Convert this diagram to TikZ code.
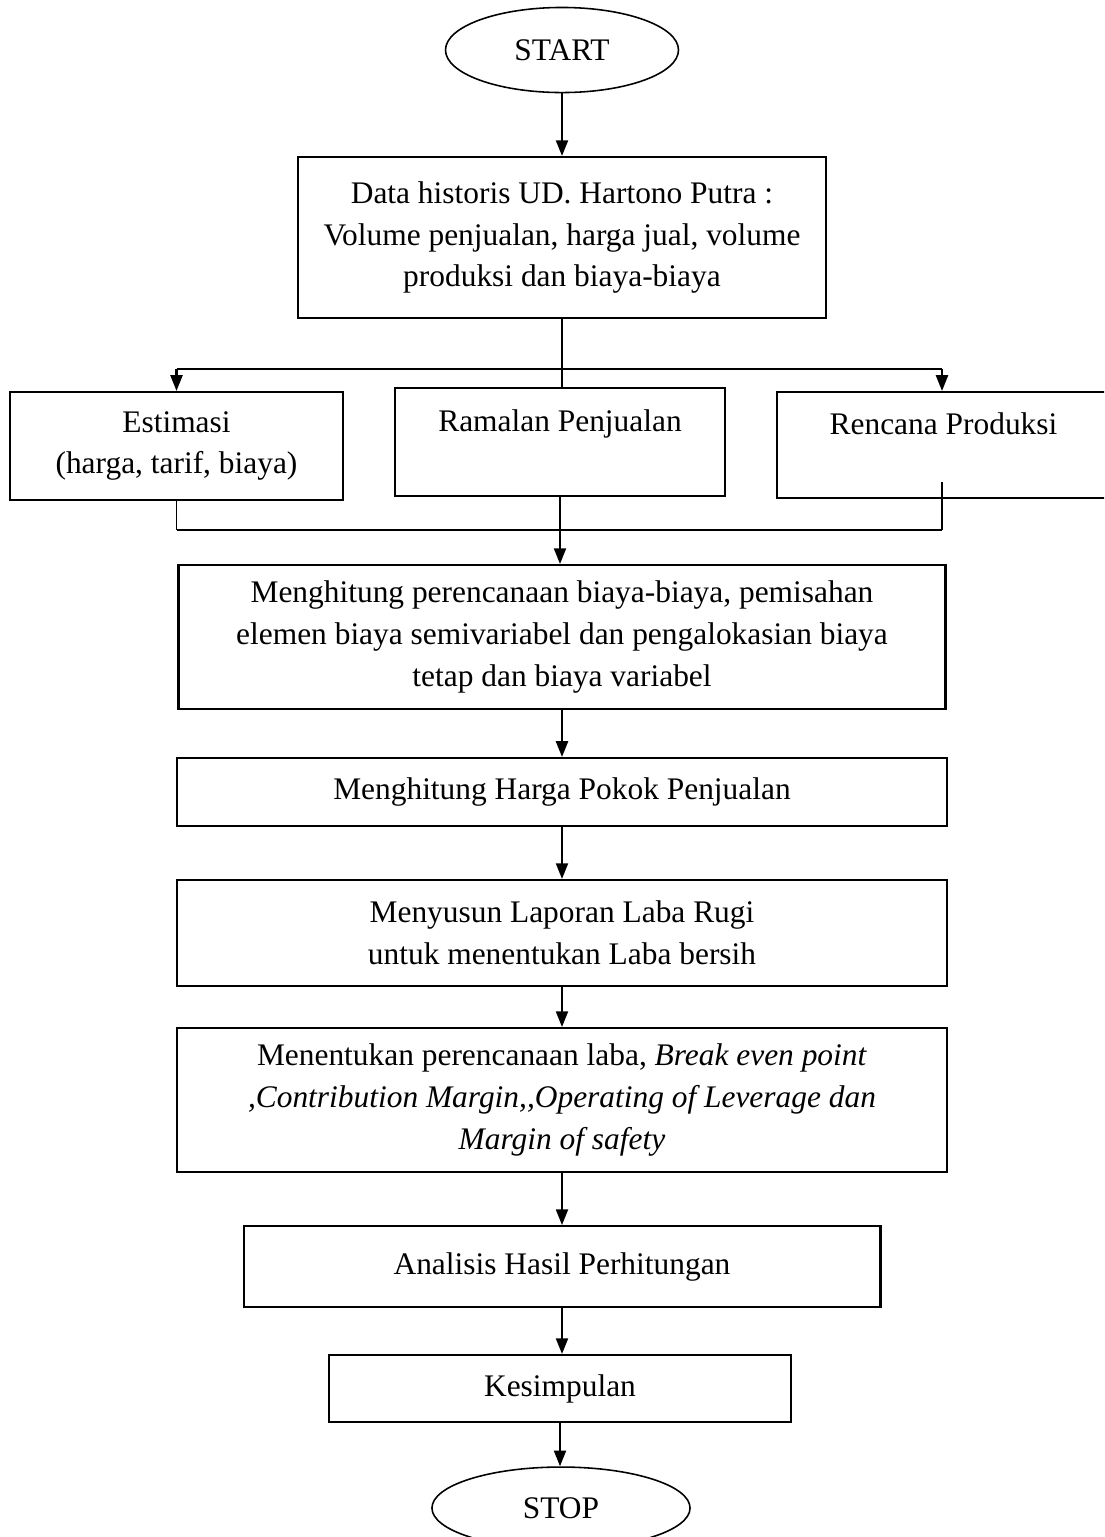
\documentclass[tikz,border=0pt]{standalone}
\usepackage{fontspec}
\setmainfont{Liberation Serif}
\usetikzlibrary{shapes.geometric,arrows.meta}

\tikzset{
  every box/.style={
    rectangle,
    draw,
    line width=0.8pt,
    inner sep=0pt,
    align=center,
    font=\fontsize{12}{16}\selectfont
  },
  box terminal/.style={
    ellipse,
    line width=0.6pt
  },
  thin line/.style={
    line width=0.5pt
  },
}

\begin{document}
\begin{tikzpicture}[x=0.382pt, y=-0.382pt, line width=0.8pt,
  >={Stealth[inset=0pt,length=6pt,width=4.6pt]}]

  \clip (0,0) rectangle (1104,1537);

  \node [every box, box terminal, minimum width=89pt, minimum height=32.5pt] (start) at (562,50) {START};

  \node [every box, minimum width=201.7pt, minimum height=61.5pt] (data) at (562,237.5)
    {Data historis UD. Hartono Putra :\\Volume penjualan, harga jual, volume\\produksi dan biaya-biaya};

  \node [every box, minimum width=127.2pt, minimum height=41.3pt] (estimasi) at (176.5,446)
    {Estimasi\\(harga, tarif, biaya)};
  \node [every box, minimum width=126.4pt, minimum height=41.3pt] (ramalan) at (560,442)
    {Ramalan Penjualan\\ \mbox{}};
  \node [every box, minimum width=127.2pt, minimum height=40.5pt] (rencana) at (943.5,445)
    {Rencana Produksi\\ \mbox{}};

  \node [every box, minimum width=293pt, minimum height=55pt] (hitung) at (562,637)
    {Menghitung perencanaan biaya-biaya, pemisahan\\elemen biaya semivariabel dan pengalokasian biaya\\tetap dan biaya variabel};
  \node [every box, minimum width=293.8pt, minimum height=26pt] (hpp) at (562,792)
    {Menghitung Harga Pokok Penjualan};
  \node [every box, minimum width=293.8pt, minimum height=40.5pt] (labarugi) at (562,933)
    {Menyusun Laporan Laba Rugi\\untuk menentukan Laba bersih};
  \node [every box, minimum width=293.8pt, minimum height=55pt] (perencanaan) at (562,1100)
    {Menentukan perencanaan laba, \textit{Break even point}\\\textit{,Contribution Margin,\kern0pt,Operating of Leverage dan}\\\textit{Margin of safety}};
  \node [every box, minimum width=243.3pt, minimum height=30.9pt] (analisis) at (562,1266.5)
    {Analisis Hasil Perhitungan};
  \node [every box, minimum width=176.5pt, minimum height=25.6pt] (kesimpulan) at (560,1388.5)
    {Kesimpulan};

  \node [every box, box terminal, minimum width=98.6pt, minimum height=31.3pt] (stop) at (561,1508) {STOP};

  \coordinate (split-l) at (176.5,369);
  \coordinate (split-r) at (942,369);
  \coordinate (merge-l) at (176.5,530);
  \coordinate (merge-r) at (942,530);
  \coordinate (stub) at (942,482);

  \draw [thin line] (data.south) -- (data.south |- ramalan.north);
  \draw (split-l) -- (split-r);
  \draw [->] (split-l) -- (estimasi);
  \draw [->] (split-r) -- (split-r |- rencana.north);

  \draw [thin line] (estimasi) -- (merge-l);
  \draw (merge-l) -- (merge-r);
  \draw [thin line] (merge-r) -- (stub);

  \foreach \a/\b in {start/data, ramalan/hitung, hitung/hpp, hpp/labarugi,
    labarugi/perencanaan, perencanaan/analisis, analisis/kesimpulan, kesimpulan/stop}
    \draw [->] (\a.south) -- (\a.south |- \b.north);

\end{tikzpicture}
\end{document}
